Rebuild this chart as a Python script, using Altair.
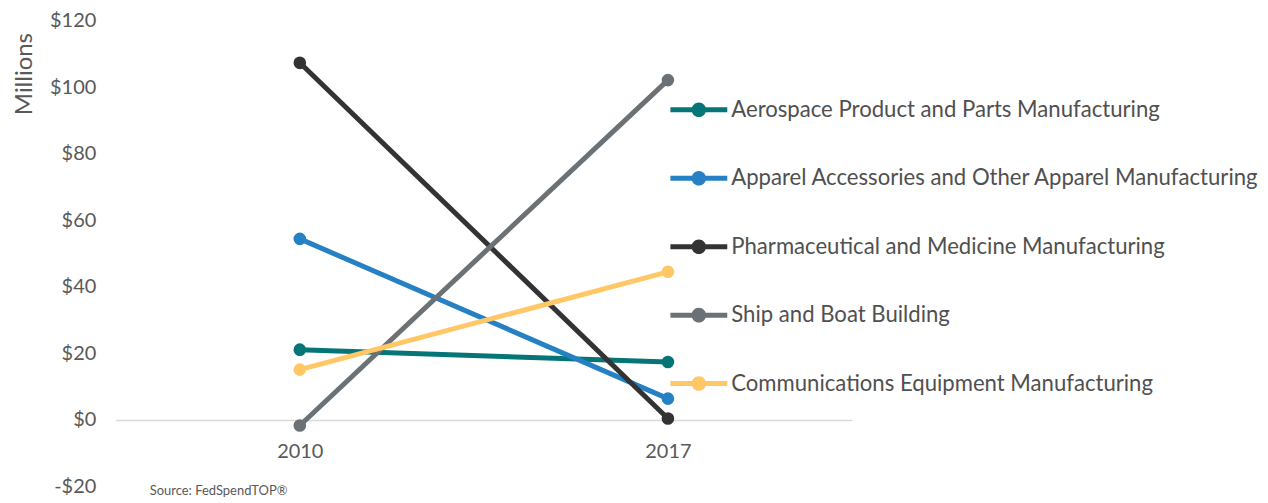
import altair as alt
import pandas as pd

series = [
    "Aerospace Product and Parts Manufacturing",
    "Apparel Accessories and Other Apparel Manufacturing",
    "Pharmaceutical and Medicine Manufacturing",
    "Ship and Boat Building",
    "Communications Equipment Manufacturing",
]
years = ["2010", "2017"]
values_2010 = [21.1, 54.4, 107.3, -1.7, 15.1]
values_2017 = [17.4, 6.4, 0.4, 102.1, 44.5]
colors = ["#067577", "#2581c4", "#333333", "#6b7174", "#ffc765"]
y_ticks = [-20, 0, 20, 40, 60, 80, 100, 120]
y_title = "Millions"
source_note = "Source: FedSpendTOP\u00ae"

rows = []
for s, a, b in zip(series, values_2010, values_2017):
    rows.append({"series": s, "year": years[0], "value": a})
    rows.append({"series": s, "year": years[1], "value": b})
df = pd.DataFrame(rows)

W, H = 738, 467
FONT = "Lato"
GREY = "#595959"

sym = ("M-1,-0.088H1V0.088H-1Z "
       "M0.256,0A0.256,0.256 0 1,1 -0.256,0A0.256,0.256 0 1,1 0.256,0Z")

x_enc = alt.X(
    "year:O",
    scale=alt.Scale(type="point", padding=0.5),
    axis=alt.Axis(
        title=None, labelAngle=0, offset=-H * 20 / 140, domainColor="#d9d9d9",
        domainWidth=1.5, ticks=False, grid=False, labelPadding=22,
        labelFont=FONT, labelFontSize=20, labelColor=GREY,
    ),
)
y_enc = alt.Y(
    "value:Q",
    scale=alt.Scale(domain=[-20, 120], nice=False, zero=False),
    axis=alt.Axis(
        values=y_ticks,
        labelExpr="(datum.value < 0 ? '-$' : '$') + abs(datum.value)",
        domain=False, ticks=False, grid=False, labelPadding=20,
        labelFont=FONT, labelFontSize=20, labelColor=GREY,
        title=y_title, titleFont=FONT, titleFontSize=24, titleFontWeight="normal",
        titleColor=GREY, titleAngle=-90, titleAlign="right", titleBaseline="middle",
        titleX=-91, titleY=12,
    ),
)
color_enc = alt.Color(
    "series:N",
    scale=alt.Scale(domain=series, range=colors),
    sort=series,
    legend=alt.Legend(
        orient="none", legendX=556, legendY=61, title=None,
        symbolType=sym, symbolSize=3249, symbolStrokeWidth=0,
        labelFont=FONT, labelFontSize=22.2, labelColor="#505050",
        labelLimit=0, rowPadding=28.6, labelOffset=4, padding=0,
    ),
)

base = alt.Chart(df)
points = base.mark_point(filled=True, size=160, opacity=1).encode(
    x=x_enc, y=y_enc, color=color_enc
)
lines = base.mark_line(strokeWidth=5).encode(
    x=x_enc, y=y_enc, color=color_enc, detail="series:N"
)
note = alt.Chart(pd.DataFrame({"t": [source_note]})).mark_text(
    align="left", baseline="middle", fontSize=13, font=FONT, color=GREY
).encode(text="t:N", x=alt.value(34), y=alt.value(472))

chart = alt.layer(points, lines, note).properties(
    width=W, height=H, padding={"left": 4, "top": 2, "right": 0, "bottom": 0}
).configure_view(stroke=None)

chart.save("out.html", embed_options={"renderer": "svg", "actions": False})
